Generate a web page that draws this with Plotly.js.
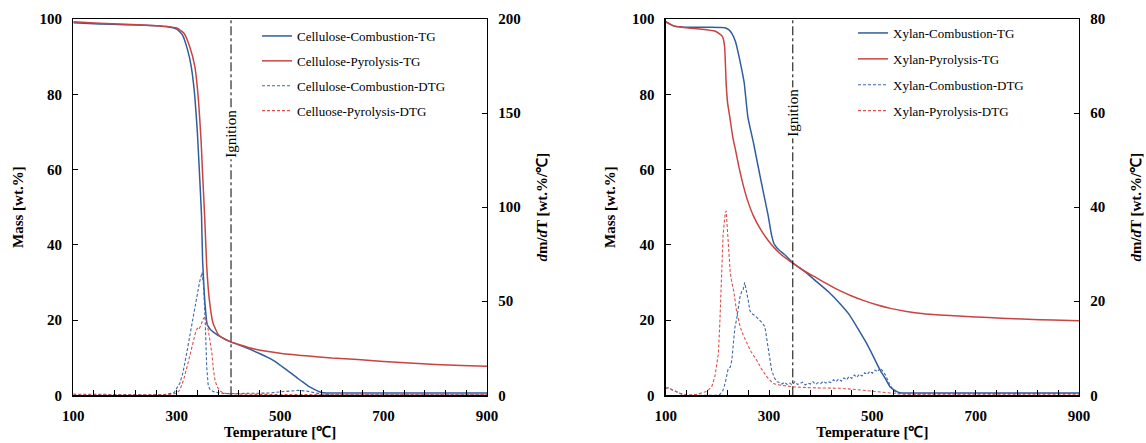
<!DOCTYPE html>
<html>
<head>
<meta charset="utf-8">
<script src="https://cdn.plot.ly/plotly-3.0.1.min.js"></script>
<style>html,body{margin:0;padding:0;background:#fff;}#chart{width:1146px;height:443px;}</style>
</head>
<body>
<div id="chart"></div>
<script>
// ---------------- DATA ----------------
// Cellulose (left panel)
const celT_combTG = [100,150,200,250,280,300,311,321,328,335,340,344,348,350,354,359,365,373,385,401,420,442,460,477,490,505,515,525,535,546,556,567,577,584,600,700,800,900];
const celM_combTG = [99.0,98.7,98.5,98.3,98.0,97.3,95.8,91.8,87.4,79.4,69.7,59.0,47.6,36.0,25.5,18.8,17.5,16.6,15.5,14.4,13.4,12.2,11.1,10.0,9.0,7.5,6.5,5.5,4.4,3.3,2.3,1.5,0.9,0.7,0.6,0.6,0.6,0.6];

const celT_pyrTG = [100,150,200,250,280,300,314,325,335,342,347,350,354,358,363,370,380,390,401,420,450,500,550,600,650,700,750,800,850,900];
const celM_pyrTG = [99.3,98.9,98.6,98.3,98.0,97.6,96.2,92.7,87.4,78.5,67.9,59.0,47.6,34.3,25.5,19.3,16.2,15.1,14.4,13.5,12.3,11.2,10.5,9.9,9.5,9.0,8.6,8.2,7.9,7.7];

const celT_combDTG = [100,150,200,250,280,295,306,312,319,325,332,338,344,349,352,355,358,361,365,373,385,400,450,480,500,520,535,550,565,580,600,700,800,900];
const celD_combDTG = [0.6,0.4,0.3,0.3,0.5,1.5,6.4,12,22,31,42,51,60,65.3,58,40,15,5,2.8,1.8,1.1,0.9,0.9,1.2,1.8,2.4,2.6,2.3,1.6,0.6,0.3,0.3,0.3,0.3];

const celT_pyrDTG = [100,150,200,250,290,300,306,313,320,326,332,337,340,343,347,351,355,358,361,365,368,371,374,378,384,390,400,450,500,600,700,800,900];
const celD_pyrDTG = [0.3,0.2,0.2,0.2,0.4,1.2,2.8,8,15.2,22,29.4,34,35.6,35.0,37.5,40.5,41.8,39,34.7,28,22.3,13.4,8,4.6,2.3,1.2,0.8,0.5,0.4,0.3,0.2,0.2,0.2];

const celIgnition = 405;

// Xylan (right panel)
const xylT_combTG = [100,108,116,130,144,180,214,222,228,235,242,248,252,259,270,284,298,305,310,315,321,330,347,370,392,415,437,455,470,486,502,515,525,534,545,553,570,600,700,800,900];
const xylM_combTG = [99.3,98.7,98.1,97.9,97.8,97.8,97.7,97.2,96.2,94,90,86,83,74,67,57.3,48.0,42.5,40.2,39.2,38.4,37.4,35.1,32.8,30.2,27.5,24.4,21.5,18.2,14.5,10.3,6.7,4.5,2.3,1.2,0.7,0.6,0.6,0.6,0.6,0.6];

const xylT_pyrTG = [100,110,120,144,170,195,205,210,214,217,220,224,230,235,242,249,258,270,284,298,320,347,370,392,415,437,460,485,510,535,566,600,650,700,750,800,850,900];
const xylM_pyrTG = [99.2,98.5,98.0,97.6,97.3,96.8,96.0,95.3,92.7,82.9,77.5,74.0,68.5,65.3,60.5,56.4,52.0,47.6,44.0,41.2,37.8,35.0,32.9,31.2,29.4,27.8,26.4,25.1,24.0,23.1,22.3,21.7,21.2,20.8,20.5,20.2,20.0,19.8];

const xylT_combDTG = [100,106,112,121,130,141,160,180,200,205,210,215,218,221,225,228,231,234,237,240,244,247,250,253,256,260,263,266,272,279,285,292,295,298,302,305,310,315,320,325,330,335,340,345,350,355,360,365,370,375,380,385,390,395,400,405,410,415,420,425,430,435,440,445,450,455,460,465,470,475,480,485,490,495,500,505,510,515,520,524,529,534,540,547,560,600,650,700,750,800,850,900];
const xylD_combDTG = [1.5,1.6,1.2,0.8,0.3,0.0,0.0,0.0,0.0,0.2,0.8,2.5,4.5,5.7,6.0,7.5,11,14.5,16,18.5,21,22,22.5,24,22.5,20,18,17.4,17,16.3,15.6,14.6,12.8,10.3,7.5,5.4,3.8,2.9,2.7,2.4,2.8,2.3,2.6,2.2,2.9,2.3,2.5,2.8,2.2,2.6,2.4,2.9,2.3,2.7,2.5,3.0,2.6,2.9,2.7,3.3,2.9,3.5,3.0,3.7,3.3,4.0,3.6,4.3,3.8,4.5,4.1,4.8,4.4,5.1,4.7,5.4,5.0,5.8,5.2,4.6,3.4,2.2,1.2,0.5,0.3,0.3,0.3,0.4,0.3,0.4,0.3,0.4];

const xylT_pyrDTG = [100,106,112,121,130,141,160,179,189,195,202,205,208,211,215,217,219,222,225,228,232,237,244,250,257,265,276,285,296,308,320,347,380,437,470,502,530,553,600,700,800,900];
const xylD_pyrDTG = [1.5,1.6,1.2,0.8,0.3,0.0,0.2,0.8,1.8,3.9,8.9,16,26.6,34,38.5,39.2,36,30,26,24,22,18,14.6,12.8,11,9.3,7.5,5.7,3.9,2.5,2.2,1.8,1.6,1.5,1.2,0.8,0.5,0.3,0.1,0.1,0.1,0.1];

const xylIgnition = 346;

const legendNames = {
  cel: ['Cellulose-Combustion-TG','Cellulose-Pyrolysis-TG','Cellulose-Combustion-DTG','Celluose-Pyrolysis-DTG'],
  xyl: ['Xylan-Combustion-TG','Xylan-Pyrolysis-TG','Xylan-Combustion-DTG','Xylan-Pyrolysis-DTG']
};

// ---------------- STYLE / LAYOUT ----------------
const W = 1146, H = 443;
const L1 = 73.3, R1 = 487, L2 = 665.7, R2 = 1079, TOP = 19, BOT = 395.3;
const BLUE = '#2f5d9e', RED = '#c94341', BLUE_D = '#3c68a8', RED_D = '#d9504e';
const FONT = '"Liberation Serif", "Times New Roman", Times, serif';

function tg(x, y, name, color, xa, ya, leg, grp) {
  return {x, y, name, type:'scatter', mode:'lines', xaxis:xa, yaxis:ya, legend:leg, legendgroup:grp,
          line:{color, width:1.5, shape:'spline', smoothing:0.4}};
}
function dtg(x, y, name, color, xa, ya, leg, grp) {
  return {x, y, name, type:'scatter', mode:'lines', xaxis:xa, yaxis:ya, legend:leg, legendgroup:grp,
          line:{color, width:1.1, dash:'3px,2px'}};
}

const traces = [
  tg(celT_combTG, celM_combTG, legendNames.cel[0], BLUE, 'x', 'y', 'legend', 'a1'),
  tg(celT_pyrTG, celM_pyrTG, legendNames.cel[1], RED, 'x', 'y', 'legend', 'a2'),
  dtg(celT_combDTG, celD_combDTG, legendNames.cel[2], BLUE_D, 'x', 'y2', 'legend', 'a3'),
  dtg(celT_pyrDTG, celD_pyrDTG, legendNames.cel[3], RED_D, 'x', 'y2', 'legend', 'a4'),
  tg(xylT_combTG, xylM_combTG, legendNames.xyl[0], BLUE, 'x2', 'y3', 'legend2', 'b1'),
  tg(xylT_pyrTG, xylM_pyrTG, legendNames.xyl[1], RED, 'x2', 'y3', 'legend2', 'b2'),
  dtg(xylT_combDTG, xylD_combDTG, legendNames.xyl[2], BLUE_D, 'x2', 'y4', 'legend2', 'b3'),
  dtg(xylT_pyrDTG, xylD_pyrDTG, legendNames.xyl[3], RED_D, 'x2', 'y4', 'legend2', 'b4')
];

const tickFont = {family:FONT, size:15, color:'#000', weight:'bold'};
const titleFont = {family:FONT, size:15, color:'#000', weight:'bold'};
const yDom = [1 - BOT/H, 1 - TOP/H];

function xax(dom, anchor) {
  return {domain:dom, anchor, range:[100,900], tick0:100, dtick:200, ticks:'inside', ticklen:5, tickwidth:1,
    tickcolor:'#000', showline:true, linecolor:'#000', linewidth:1.3, mirror:true, showgrid:false, zeroline:false,
    tickfont:tickFont, ticklabelstandoff:6,
    minor:{tick0:100, dtick:40, ticks:'inside', ticklen:5, tickwidth:1, tickcolor:'#000', showgrid:false},
    title:{text:'Temperature [℃]', font:titleFont, standoff:4}};
}
function yax(anchor, range, dtick, side, title, overlay, standoff) {
  const a = {domain:yDom, anchor, range, dtick, ticks:'inside', ticklen:5, tickwidth:1, tickcolor:'#000',
    showline:true, linecolor:'#000', linewidth:1.3, showgrid:false, zeroline:false, side,
    tickfont:tickFont, ticklabelstandoff:7, title:{text:title, font:titleFont, standoff}};
  if (overlay) a.overlaying = overlay;
  return a;
}

const legendBase = {font:{family:FONT, size:13, color:'#000'}, bgcolor:'rgba(0,0,0,0)', xanchor:'left', yanchor:'top',
  traceorder:'grouped', tracegroupgap:5, itemwidth:30};

const shapes = [
  {type:'line', xref:'x', yref:'y', x0:celIgnition, x1:celIgnition, y0:0, y1:100, line:{color:'#000', width:1, dash:'dashdot'}},
  {type:'line', xref:'x2', yref:'y3', x0:xylIgnition, x1:xylIgnition, y0:0, y1:100, line:{color:'#000', width:1, dash:'dashdot'}}
];
const annotations = [
  {xref:'x', yref:'y', x:celIgnition, y:69.5, text:'Ignition', textangle:-90, showarrow:false, bgcolor:'#fff',
   font:{family:FONT, size:15, color:'#000'}},
  {xref:'x2', yref:'y3', x:xylIgnition, y:75, text:'Ignition', textangle:-90, showarrow:false, bgcolor:'#fff',
   font:{family:FONT, size:15, color:'#000'}}
];

const layout = {
  width:W, height:H, margin:{l:0, r:0, t:0, b:0}, paper_bgcolor:'#fff', plot_bgcolor:'#fff',
  font:{family:FONT, color:'#000'}, showlegend:true,
  xaxis: xax([L1/W, R1/W], 'y'),
  yaxis: yax('x', [0,100], 20, 'left', 'Mass [wt.%]', null, 12),
  yaxis2: yax('x', [0,200], 50, 'right', '<i>d</i>m/<i>d</i>T [wt.%/℃]', 'y', 16),
  xaxis2: xax([L2/W, R2/W], 'y3'),
  yaxis3: yax('x2', [0,100], 20, 'left', 'Mass [wt.%]', null, 12),
  yaxis4: yax('x2', [0,80], 20, 'right', '<i>d</i>m/<i>d</i>T [wt.%/℃]', 'y3', 26),
  legend: Object.assign({x:(257)/W, y:1 - 21/H}, legendBase),
  legend2: Object.assign({x:(853)/W, y:1 - 18/H}, Object.assign({}, legendBase, {tracegroupgap:6})),
  shapes, annotations
};

Plotly.newPlot('chart', traces, layout, {staticPlot:true, displayModeBar:false});
</script>
</body>
</html>
